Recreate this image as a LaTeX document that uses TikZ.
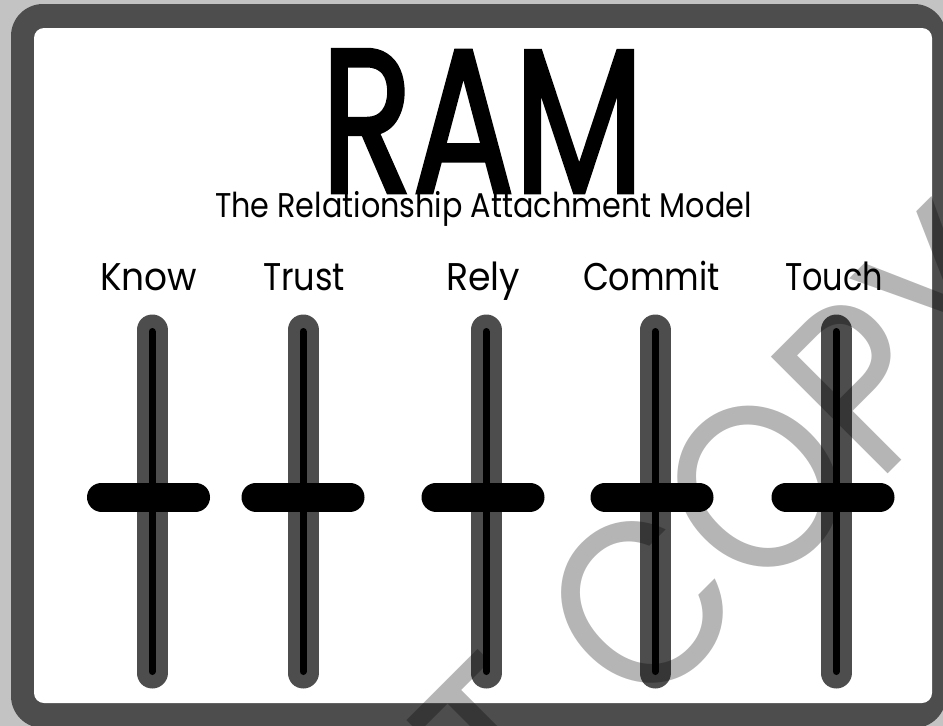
\documentclass[tikz,border=0pt]{standalone}
\usepackage{fontspec}
\setmainfont{Poppins}
\newfontfamily\ramfont{Poppins}[FakeBold=2.2]
\usepackage{graphicx}
\newsavebox\fitbox
\newcommand{\fitx}[2]{\sbox\fitbox{#2}\pgfmathsetmacro\fitfac{#1/\the\wd\fitbox}\scalebox{\fitfac}[1]{\usebox\fitbox}}
\definecolor{bggray}{RGB}{195,195,195}
\definecolor{framegray}{RGB}{77,77,77}
\begin{document}
\begin{tikzpicture}[x=1pt,y=-1pt,
  track/.style={line width=31pt, line cap=round, draw=framegray},
  rail/.style={line width=7pt, line cap=round, draw=black},
  knob/.style={line width=29pt, line cap=round, draw=black},
  lbl/.style={anchor=base, inner sep=0pt, font=\fontsize{38.6}{40}\selectfont},
  wm/.style={rotate=45, inner sep=0pt, text=black, text opacity=0.29, font=\fontsize{237}{240}\selectfont}]
\useasboundingbox (0,0) rectangle (943,726);
\clip (0,0) rectangle (943,726);
\fill[bggray] (0,0) rectangle (943,726);
\fill[framegray, rounded corners=32pt] (11,4) rectangle (946,728);
\fill[white, rounded corners=10pt] (34,28) rectangle (932,703);
\foreach \nm/\tx/\kx/\lx/\lw/\txt in {know/152/148.5/148.5/97/Know, trust/303/303/304/82/Trust, rely/486/483/483/74/Rely, commit/655/652/651.5/137/Commit, touch/836/833/834/98/Touch}{
  \coordinate (\nm-top) at (\tx,330);
  \coordinate (\nm-bot) at (\tx,673);
  \coordinate (\nm-rtop) at (\tx,331.5);
  \coordinate (\nm-rbot) at (\tx,671.5);
  \coordinate (\nm-kl) at (\kx-47,497);
  \coordinate (\nm-kr) at (\kx+47,497);
  \draw[track] (\nm-top) -- (\nm-bot);
  \draw[rail] (\nm-rtop) -- (\nm-rbot);
  \draw[knob] (\nm-kl) -- (\nm-kr);
  \node[lbl] (\nm-lbl) at (\lx,290) {\fitx{\lw pt}{\txt}};
}
\node[anchor=base, inner sep=0pt, font=\fontsize{203}{205}\selectfont\ramfont] (title) at (482.5,192) {\resizebox{323pt}{142pt}{RAM}};
\node[anchor=base, inner sep=0pt, font=\fontsize{34.3}{36}\selectfont] (subtitle) at (483.5,217) {\fitx{537pt}{The Relationship Attachment Model}};
\node[wm, anchor=base east] (wm1) at (600,761) {\scalebox{0.9}[1]{DO NOT}};
\node[wm, anchor=base west] (wm2) at (641,721) {\scalebox{0.9}[1]{COPY}};
\end{tikzpicture}
\end{document}
